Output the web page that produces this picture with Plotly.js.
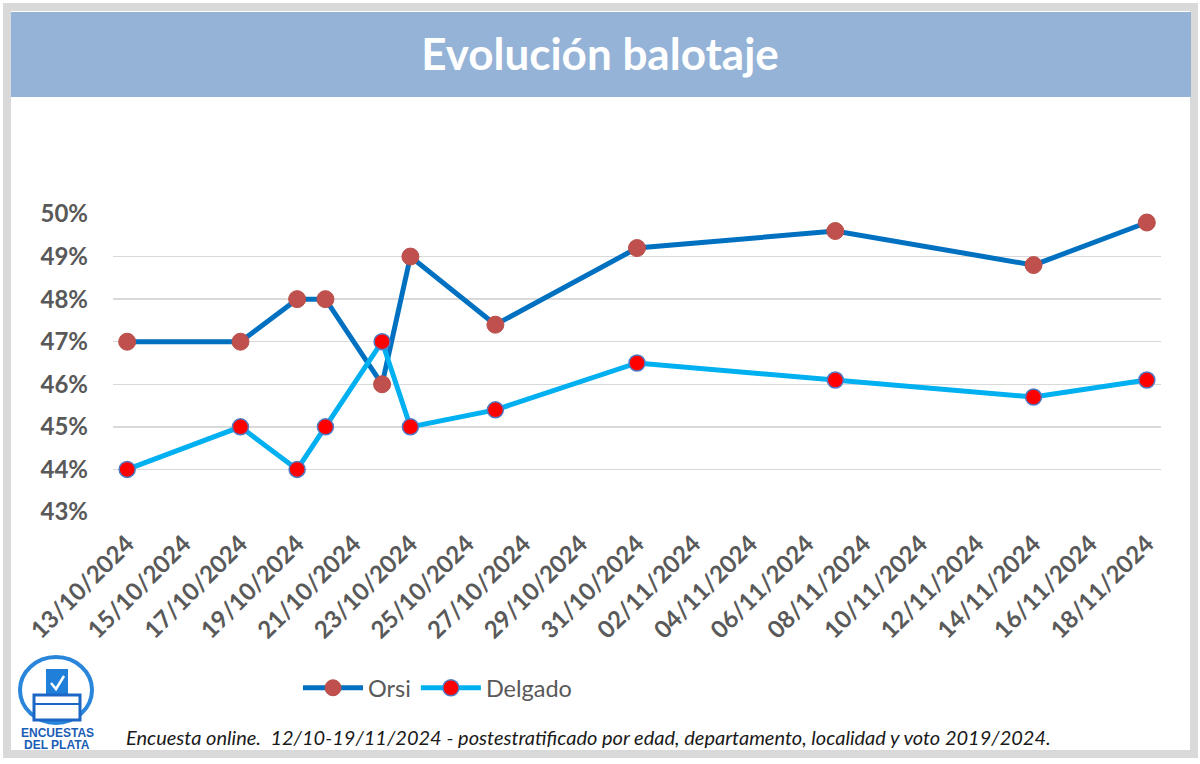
<!DOCTYPE html>
<html>
<head>
<meta charset="utf-8">
<script src="https://cdn.plot.ly/plotly-3.0.1.min.js"></script>
<style>
  html, body { margin: 0; padding: 0; background: #ffffff; }
  #chart { width: 1200px; height: 764px; }
</style>
</head>
<body>
<div id="chart"></div>
<script>
// ---- Data ----
const dates = ['2024-10-13', '2024-10-17', '2024-10-19', '2024-10-20', '2024-10-22', '2024-10-23',
               '2024-10-26', '2024-10-31', '2024-11-07', '2024-11-14', '2024-11-18'];
const orsi    = [47, 47, 48, 48, 46, 49, 47.4, 49.2, 49.6, 48.8, 49.8];
const delgado = [44, 45, 44, 45, 47, 45, 45.4, 46.5, 46.1, 45.7, 46.1];
const seriesNames = ['Orsi', 'Delgado'];
const chartTitle = 'Evolución balotaje';
const footnote = 'Encuesta online.  12/10-19/11/2024 - postestratificado por edad, departamento, localidad y voto 2019/2024.';
const logoLines = ['ENCUESTAS', 'DEL PLATA'];

// ---- Layout helpers (pixel -> paper) ----
const W = 1200, H = 764;
const L = 113, R = 1161, T = 214, B = 512;
const xp = px => (px - L) / (R - L);
const yp = py => (B - py) / (B - T);

const FONT = 'Lato, "Open Sans", sans-serif';
const GREY = '#595959';

const traces = [
  {
    x: dates, y: orsi, name: seriesNames[0], type: 'scatter', mode: 'lines+markers',
    line: { color: '#0070C0', width: 5 },
    marker: { color: '#C0504D', size: 17, line: { color: '#B9504C', width: 1 } },
    cliponaxis: false
  },
  {
    x: dates, y: delgado, name: seriesNames[1], type: 'scatter', mode: 'lines+markers',
    line: { color: '#00B0F0', width: 5 },
    marker: { color: '#FF0000', size: 16, line: { color: '#4F7BC4', width: 1.5 } },
    cliponaxis: false
  }
];

const shapes = [
  // outer frame
  { type: 'rect', xref: 'paper', yref: 'paper', layer: 'below',
    x0: xp(7), x1: xp(1194), y0: yp(754), y1: yp(7),
    line: { color: '#D9D9D9', width: 8 }, fillcolor: 'rgba(0,0,0,0)' },
  // title banner
  { type: 'rect', xref: 'paper', yref: 'paper', layer: 'below',
    x0: xp(11), x1: xp(1191), y0: yp(97), y1: yp(12),
    line: { width: 0 }, fillcolor: '#95B3D7' },
  // logo ring
  { type: 'circle', xref: 'paper', yref: 'paper',
    x0: xp(20), x1: xp(92), y0: yp(723), y1: yp(657),
    line: { color: '#2A86DA', width: 4 }, fillcolor: '#ffffff' },
  // logo ballot
  { type: 'rect', xref: 'paper', yref: 'paper',
    x0: xp(46), x1: xp(68), y0: yp(697), y1: yp(669),
    line: { width: 0 }, fillcolor: '#1F7FD9' },
  // logo box
  { type: 'rect', xref: 'paper', yref: 'paper',
    x0: xp(34), x1: xp(80), y0: yp(720), y1: yp(695),
    line: { color: '#1C67C6', width: 3 }, fillcolor: '#ffffff' },
  { type: 'line', xref: 'paper', yref: 'paper',
    x0: xp(34), x1: xp(80), y0: yp(704), y1: yp(704),
    line: { color: '#1C67C6', width: 2 } },
  // check mark
  { type: 'path', xref: 'paper', yref: 'paper',
    path: `M ${xp(51)},${yp(683)} L ${xp(56)},${yp(689)} L ${xp(64)},${yp(676)}`,
    line: { color: '#ffffff', width: 2.5 } }
];

const annotations = [
  { xref: 'paper', yref: 'paper', x: xp(588), y: yp(737), xanchor: 'center', yanchor: 'middle',
    text: '<i>' + footnote + '</i>', showarrow: false,
    font: { family: FONT, size: 20, color: '#1a1a1a' } },
  { xref: 'paper', yref: 'paper', x: xp(57), y: yp(733), xanchor: 'center', yanchor: 'middle',
    text: '<b>' + logoLines[0] + '</b>', showarrow: false,
    font: { family: 'Liberation Sans, Arial, sans-serif', size: 12, color: '#1A5DB5' } },
  { xref: 'paper', yref: 'paper', x: xp(57), y: yp(745), xanchor: 'center', yanchor: 'middle',
    text: '<b>' + logoLines[1] + '</b>', showarrow: false,
    font: { family: 'Liberation Sans, Arial, sans-serif', size: 12, color: '#1A5DB5' } }
];

const layout = {
  width: W, height: H,
  margin: { l: L, r: W - R, t: T, b: H - B, pad: 0 },
  paper_bgcolor: '#ffffff', plot_bgcolor: '#ffffff',
  title: {
    text: '<b>' + chartTitle + '</b>',
    x: 0.5, xanchor: 'center', xref: 'container',
    y: 1 - 55 / H, yanchor: 'middle', yref: 'container',
    font: { family: FONT, size: 44, color: '#ffffff' }
  },
  xaxis: {
    type: 'date',
    range: ['2024-10-12 12:00', '2024-11-18 12:00'],
    tick0: '2024-10-13', dtick: 2 * 86400000,
    tickformat: '%d/%m/%Y', tickangle: -45,
    showgrid: false, zeroline: false, showline: false, ticks: '',
    tickfont: { family: FONT, size: 24, color: GREY, weight: 'bold' },
    ticklabelstandoff: 12
  },
  yaxis: {
    range: [43, 50], dtick: 1, ticksuffix: '%',
    showgrid: true, gridcolor: '#D9D9D9', gridwidth: 1.5,
    zeroline: false, showline: false, ticks: '',
    tickfont: { family: FONT, size: 24, color: GREY, weight: 'bold' },
    ticklabelstandoff: 24
  },
  showlegend: true,
  legend: {
    orientation: 'h', xref: 'paper', yref: 'paper',
    x: xp(298), y: yp(688), xanchor: 'left', yanchor: 'middle',
    font: { family: FONT, size: 23.5, color: GREY },
    itemwidth: 60, bgcolor: 'rgba(0,0,0,0)'
  },
  shapes: shapes,
  annotations: annotations
};

Plotly.newPlot('chart', traces, layout, { displayModeBar: false, staticPlot: true });
</script>
</body>
</html>
